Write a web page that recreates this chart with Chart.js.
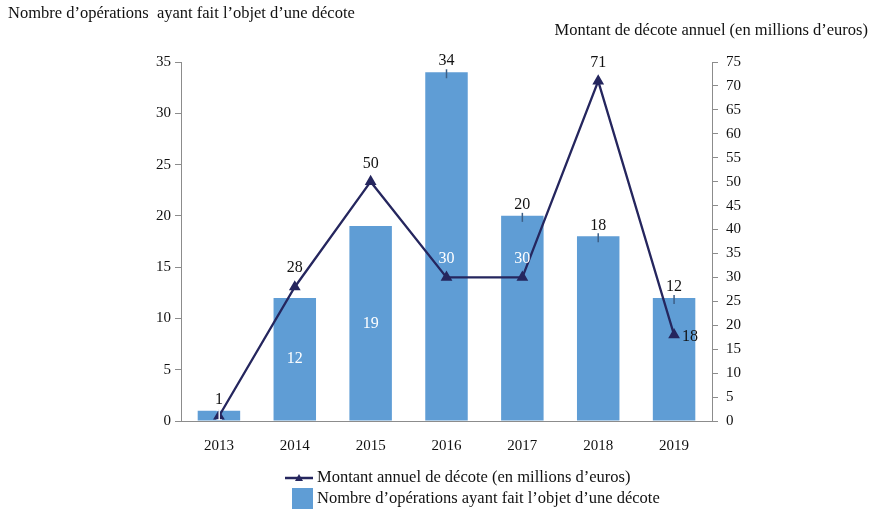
<!DOCTYPE html>
<html>
<head>
<meta charset="utf-8">
<script src="https://cdn.jsdelivr.net/npm/chart.js@4/dist/chart.umd.min.js"></script>
<style>
  html, body { margin: 0; padding: 0; background: #fff; }
  #wrap { position: relative; width: 880px; height: 519px; }
</style>
</head>
<body>
<div id="wrap"><canvas id="c"></canvas></div>
<script>
const years = [ '2013', '2014', '2015', '2016', '2017', '2018', '2019' ];
const operations = [ 1, 12, 19, 34, 20, 18, 12 ];
const montant = [ 1, 28, 50, 30, 30, 71, 18 ];
const leftTicks = [ 0, 5, 10, 15, 20, 25, 30, 35 ];
const rightTicks = [ 0, 5, 10, 15, 20, 25, 30, 35, 40, 45, 50, 55, 60, 65, 70, 75 ];

const leftTitle = 'Nombre d\u2019opérations  ayant fait l\u2019objet d\u2019une décote';
const rightTitle = 'Montant de décote annuel (en millions d\u2019euros)';
const lineLegend = 'Montant annuel de décote (en millions d\u2019euros)';
const barLegend = 'Nombre d\u2019opérations ayant fait l\u2019objet d\u2019une décote';

// where each value label sits
const barLabelPos = [ 'above', 'center', 'center', 'above', 'above', 'above', 'above' ];
const lineLabelPos = [ 'center', 'aboveLeft', 'above', 'aboveWhite', 'aboveWhite', 'above', 'right' ];
const barTick = [ false, false, false, true, true, true, true ];

const FONT = '"Liberation Serif", "DejaVu Serif", serif';
const BAR = '#5f9dd5';
const NAVY = '#25265e';
const AXIS = '#8c8c8c';

Chart.defaults.font.family = FONT;
Chart.defaults.font.size = 15;
Chart.defaults.color = '#111';
Chart.defaults.animation = false;

const triangle = ( ctx, x, y, s ) => {
    ctx.beginPath();
    ctx.moveTo( x, y - s );
    ctx.lineTo( x + s, y + s * 0.75 );
    ctx.lineTo( x - s, y + s * 0.75 );
    ctx.closePath();
    ctx.fill();
};

const labels = {
    id: 'labels',
    afterDatasetsDraw( chart ) {
        const ctx = chart.ctx;
        ctx.save();
        ctx.font = '16px ' + FONT;
        ctx.textAlign = 'center';
        ctx.textBaseline = 'middle';

        const bars = chart.getDatasetMeta( 1 ).data;
        bars.forEach( ( b, i ) => {
            if ( barTick[ i ] ) {
                ctx.strokeStyle = '#3d5f86';
                ctx.lineWidth = 1.5;
                ctx.beginPath();
                ctx.moveTo( b.x, b.y - 3 );
                ctx.lineTo( b.x, b.y + 6 );
                ctx.stroke();
            }
            if ( barLabelPos[ i ] === 'above' ) {
                ctx.fillStyle = '#111';
                ctx.fillText( operations[ i ], b.x, b.y - 11 );
            } else {
                ctx.fillStyle = '#fff';
                ctx.fillText( operations[ i ], b.x, ( b.y + b.base ) / 2 );
            }
        } );

        const pts = chart.getDatasetMeta( 0 ).data;
        pts.forEach( ( p, i ) => {
            const pos = lineLabelPos[ i ];
            const v = montant[ i ];
            if ( pos === 'center' ) {
                ctx.fillStyle = '#fff';
                ctx.fillText( v, p.x, p.y );
            } else if ( pos === 'aboveLeft' ) {
                ctx.fillStyle = '#111';
                ctx.fillText( v, p.x, p.y - 19 );
            } else if ( pos === 'above' ) {
                ctx.fillStyle = '#111';
                ctx.fillText( v, p.x, p.y - 18 );
            } else if ( pos === 'aboveWhite' ) {
                ctx.fillStyle = '#fff';
                ctx.fillText( v, p.x, p.y - 19 );
            } else if ( pos === 'right' ) {
                ctx.fillStyle = '#111';
                ctx.textAlign = 'left';
                ctx.fillText( v, p.x + 8, p.y + 2 );
                ctx.textAlign = 'center';
            }
        } );
        ctx.restore();
    },
    afterDraw( chart ) {
        const ctx = chart.ctx;
        ctx.save();
        ctx.font = '16.5px ' + FONT;
        ctx.fillStyle = '#111';
        ctx.textBaseline = 'middle';
        ctx.textAlign = 'left';
        ctx.fillText( leftTitle, 8, 14 );
        ctx.textAlign = 'right';
        ctx.fillText( rightTitle, 868, 31 );

        // legend
        ctx.textAlign = 'left';
        ctx.strokeStyle = NAVY;
        ctx.fillStyle = NAVY;
        ctx.lineWidth = 2.5;
        ctx.beginPath();
        ctx.moveTo( 285, 478 );
        ctx.lineTo( 313, 478 );
        ctx.stroke();
        triangle( ctx, 299, 478, 4 );
        ctx.fillStyle = BAR;
        ctx.fillRect( 292, 488, 21, 21 );
        ctx.fillStyle = '#111';
        ctx.fillText( lineLegend, 317, 478 );
        ctx.fillText( barLegend, 317, 499 );
        ctx.restore();
    }
};

new Chart( document.getElementById( 'c' ), {
    data: {
        labels: years,
        datasets: [ {
            type: 'line',
            label: lineLegend,
            data: montant,
            yAxisID: 'y2',
            order: 0,
            borderColor: NAVY,
            borderWidth: 2.3,
            pointStyle: 'triangle',
            pointRadius: 4.5,
            pointBackgroundColor: NAVY,
            pointBorderColor: NAVY,
            tension: 0
        }, {
            type: 'bar',
            label: barLegend,
            data: operations,
            yAxisID: 'y',
            order: 1,
            backgroundColor: BAR,
            borderWidth: 0,
            categoryPercentage: 1,
            barPercentage: 0.56
        } ]
    },
    options: {
        responsive: true,
        maintainAspectRatio: false,
        events: [],
        layout: { padding: { left: 141, right: 128, top: 62, bottom: 68 } },
        plugins: { legend: { display: false }, tooltip: { enabled: false } },
        scales: {
            x: {
                grid: { display: false },
                border: { display: true, color: AXIS, width: 1 },
                ticks: { font: { size: 15 }, color: '#111', padding: 8 },
                afterFit: s => { s.height = 30; }
            },
            y: {
                position: 'left',
                min: 0,
                max: 35,
                afterBuildTicks: s => { s.ticks = leftTicks.map( v => ( { value: v } ) ); },
                grid: { drawOnChartArea: false, tickLength: 6, color: AXIS },
                border: { color: AXIS, width: 1 },
                ticks: { font: { size: 15 }, color: '#111', padding: 4 },
                afterFit: s => { s.width = 40; }
            },
            y2: {
                position: 'right',
                min: 0,
                max: 75,
                afterBuildTicks: s => { s.ticks = rightTicks.map( v => ( { value: v } ) ); },
                grid: { drawOnChartArea: false, tickLength: 6, color: AXIS },
                border: { color: AXIS, width: 1 },
                ticks: { font: { size: 15 }, color: '#111', padding: 8 },
                afterFit: s => { s.width = 40; }
            }
        }
    },
    plugins: [ labels ]
} );
</script>
</body>
</html>
